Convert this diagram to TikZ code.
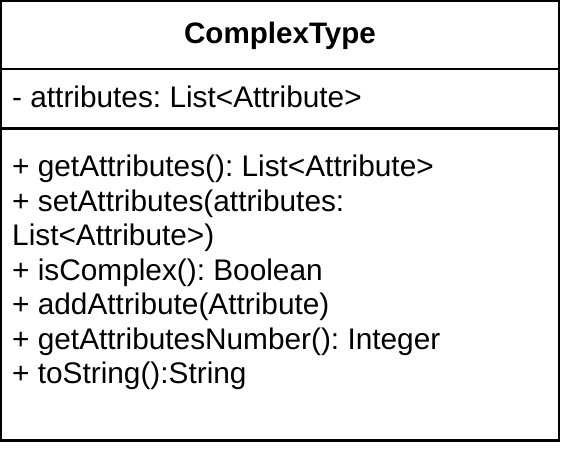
\documentclass[tikz,border=0pt]{standalone}
\usepackage{fontspec}
\setmainfont{Liberation Sans}
\frenchspacing
\begin{document}
\begin{tikzpicture}[x=1pt,y=-1pt,
  boxline/.style={draw=black,line width=2.4pt},
  member/.style={anchor=base west,inner sep=0pt,font=\fontsize{29.8}{34.5}\selectfont},
  title/.style={anchor=base,inner sep=0pt,font=\fontsize{29.6}{34.5}\selectfont\bfseries}]
\useasboundingbox (0,0) rectangle (562,448);
\node[draw=none,minimum width=557.5pt,minimum height=439pt,anchor=north west,inner sep=0pt] (box) at (1.2,1.2) {};
\draw[boxline] (box.north west) rectangle (box.south east);
\coordinate (s1l) at (1.2,69); \coordinate (s1r) at (558.7,69);
\coordinate (s2l) at (1.2,128.5); \coordinate (s2r) at (558.7,128.5);
\draw[boxline] (s1l) -- (s1r);
\draw[boxline] (s2l) -- (s2r);
\node[title] (t) at (280,43) {ComplexType};
\node[member] (a1) at (12,107) {- attributes: List<Attribute>};
\node[member] (m1) at (12,176.5) {+ getAttributes(): List<Attribute>};
\node[member] (m2) at (12,211) {+ setAttributes(attributes:};
\node[member] (m3) at (12,245.5) {List<Attribute>)};
\node[member] (m4) at (12,280) {+ isComplex(): Boolean};
\node[member] (m5) at (12,314.5) {+ addAttribute(Attribute)};
\node[member] (m6) at (12,349) {+ getAttributesNumber(): Integer};
\node[member] (m7) at (12,383.5) {+ toString():String};
\end{tikzpicture}
\end{document}
